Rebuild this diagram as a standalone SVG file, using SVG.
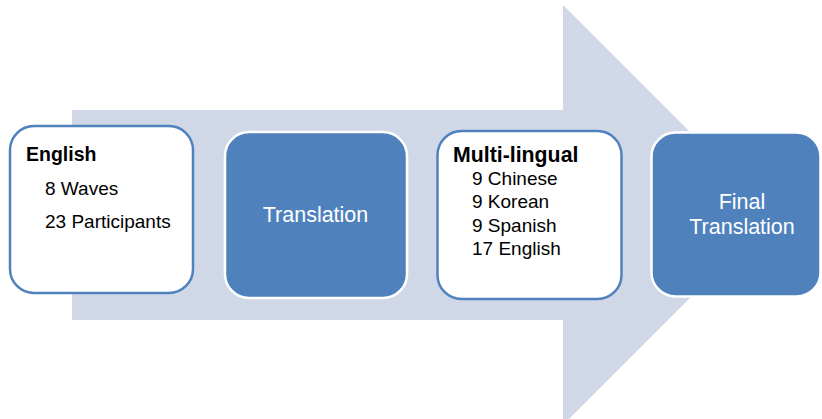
<svg xmlns="http://www.w3.org/2000/svg" width="822" height="419" viewBox="0 0 822 419">
<style>
.lt{fill:#FFFFFF;stroke:#4F81BD;stroke-width:2.5}
.dk{fill:#4F81BD;stroke:#FFFFFF;stroke-width:2.5}
text{font-family:"Liberation Sans",Arial,sans-serif}
.h{font-weight:bold;fill:#000000}
.b{font-size:19px;fill:#000000}
.w{font-size:21.5px;fill:#FFFFFF;text-anchor:middle}
</style>
<rect width="822" height="419" fill="#FFFFFF"/>
<g id="connectors">
<polygon points="72,110 563,110 563,5 773,215 563,425 563,320 72,320" fill="#D0D8E8"/>
</g>
<g id="node-english">
<rect class="lt" x="10" y="126" width="183" height="167" rx="24"/>
<text class="h" x="26" y="161" style="font-size:19.5px">English</text>
<text class="b" x="45" y="195">8 Waves</text>
<text class="b" x="45" y="228">23 Participants</text>
</g>
<g id="node-translation">
<rect class="dk" x="225" y="132" width="182" height="166" rx="24"/>
<text class="w" x="315.5" y="222">Translation</text>
</g>
<g id="node-multilingual">
<rect class="lt" x="437.5" y="131" width="184" height="168" rx="24"/>
<text class="h" x="453" y="162" style="font-size:21.3px">Multi-lingual</text>
<text class="b" x="472" y="185">9 Chinese</text>
<text class="b" x="472" y="208">9 Korean</text>
<text class="b" x="472" y="232">9 Spanish</text>
<text class="b" x="472" y="255">17 English</text>
</g>
<g id="node-final">
<rect class="dk" x="651.5" y="132.5" width="169" height="164" rx="24"/>
<text class="w" x="742" y="209">Final</text>
<text class="w" x="742" y="234">Translation</text>
</g>
</svg>
